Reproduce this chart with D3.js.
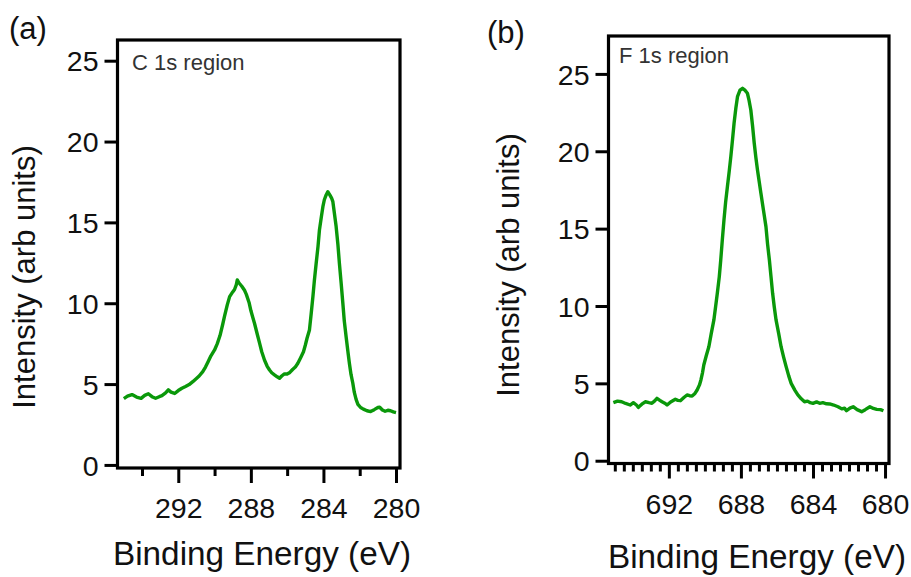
<!DOCTYPE html>
<html><head><meta charset="utf-8">
<script src="https://cdn.jsdelivr.net/npm/d3@7/dist/d3.min.js"></script>
<style>body{margin:0;background:#fff}svg{display:block}text{font-family:"Liberation Sans",Arial,sans-serif}</style>
</head><body><svg id="c" width="911" height="577"></svg>
<script>
// C 1s region (binding energy eV, intensity)
const c1sEnergy = [295.0,294.8,294.55,294.3,294.05,293.85,293.65,293.45,293.25,293.05,292.9,292.7,292.55,292.4,292.2,292.0,291.8,291.6,291.4,291.2,291.0,290.85,290.65,290.5,290.35,290.2,290.0,289.85,289.7,289.55,289.45,289.3,289.17,289.0,288.9,288.8,288.75,288.65,288.5,288.35,288.25,288.1,288.0,287.9,287.8,287.65,287.52,287.4,287.25,287.1,286.97,286.85,286.7,286.55,286.42,286.3,286.15,286.0,285.85,285.7,285.55,285.41,285.25,285.1,285.0,284.9,284.77,284.68,284.58,284.5,284.4,284.3,284.22,284.12,284.03,283.95,283.85,283.76,283.65,283.55,283.48,283.4,283.3,283.2,283.12,283.02,282.93,282.85,282.75,282.65,282.57,282.48,282.38,282.3,282.2,282.1,281.95,281.8,281.6,281.4,281.2,281.0,280.9,280.75,280.6,280.45,280.3,280.15,280.0];
const c1sIntensity = [4.10,4.25,4.35,4.20,4.12,4.30,4.40,4.22,4.12,4.22,4.28,4.45,4.64,4.50,4.42,4.60,4.74,4.85,4.97,5.15,5.35,5.50,5.77,6.05,6.40,6.75,7.11,7.50,8.00,8.70,9.20,9.90,10.41,10.70,10.85,11.15,11.44,11.25,11.05,10.80,10.55,10.05,9.55,9.15,8.76,8.10,7.53,7.00,6.49,6.10,5.87,5.70,5.57,5.45,5.36,5.50,5.63,5.62,5.72,5.90,6.05,6.29,6.65,7.00,7.40,7.85,8.35,9.30,10.41,11.40,12.47,13.50,14.53,15.30,15.97,16.40,16.70,16.90,16.70,16.50,16.28,15.60,14.74,13.60,12.47,11.20,10.00,8.90,7.93,7.00,6.29,5.60,5.05,4.50,4.05,3.75,3.55,3.45,3.35,3.30,3.42,3.55,3.57,3.40,3.32,3.38,3.35,3.28,3.24];
// F 1s region
const f1sEnergy = [695.08,694.85,694.62,694.4,694.15,693.97,693.8,693.69,693.5,693.31,693.1,692.94,692.8,692.66,692.5,692.38,692.2,692.1,691.9,691.64,691.5,691.36,691.15,690.99,690.85,690.71,690.55,690.43,690.3,690.22,690.13,690.06,689.92,689.78,689.65,689.5,689.4,689.31,689.2,689.12,689.03,688.94,688.85,688.75,688.65,688.56,688.47,688.38,688.28,688.19,688.05,687.91,687.78,687.64,687.55,687.45,687.35,687.26,687.17,687.08,686.98,686.89,686.75,686.61,686.52,686.42,686.33,686.24,686.15,686.05,685.9,685.77,685.63,685.49,685.35,685.21,685.0,684.84,684.65,684.47,684.3,684.15,684.0,683.8,683.63,683.45,683.25,683.07,682.85,682.61,682.4,682.25,682.14,681.95,681.77,681.55,681.3,681.1,680.84,680.65,680.46,680.25,680.09];
const f1sIntensity = [3.75,3.85,3.81,3.70,3.60,3.75,3.60,3.45,3.65,3.81,3.75,3.71,3.85,4.03,3.90,3.81,3.70,3.60,3.80,3.97,3.90,3.88,4.10,4.25,4.20,4.18,4.35,4.57,4.90,5.22,5.70,6.19,6.80,7.37,8.20,9.10,10.00,10.82,11.90,12.97,14.30,15.56,16.70,17.71,18.70,19.65,20.70,21.81,22.80,23.53,23.95,24.07,23.95,23.75,23.30,22.67,21.60,20.52,19.60,18.79,18.00,17.29,16.20,15.13,14.00,12.97,11.90,10.82,9.95,9.10,8.20,7.37,6.70,6.08,5.50,5.00,4.55,4.25,4.00,3.81,3.85,3.75,3.71,3.80,3.71,3.75,3.68,3.67,3.60,3.49,3.35,3.40,3.23,3.40,3.49,3.30,3.17,3.30,3.49,3.38,3.32,3.30,3.23];

const yTicks = [0,5,10,15,20,25];
const c1sMajor = [292,288,284,280];
const c1sMinor = [294,290,286,282];
const f1sMajor = [692,688,684,680];
const panelLetters = ["(a)","(b)"];
const regionLabels = ["C 1s region","F 1s region"];
const xTitle = "Binding Energy (eV)";
const yTitle = "Intensity (arb units)";

const f1sMinor = d3.range(695, 679.9, -0.5).filter(v => !f1sMajor.includes(v));

const svg = d3.select("#c");
const green = "#0a980a";

const panels = [
  {L:117.5,R:400,T:40,B:468, xd:[295.35,279.78], yd:[-0.19,26.28], E:c1sEnergy, I:c1sIntensity,
   major:c1sMajor, minor:c1sMinor, letter:panelLetters[0], lx:9, ly:39, label:regionLabels[0], rx:132, ry:70,
   xtx:262, xty:565, ytx:35, yty:277, labOff:30},
  {L:608.5,R:889,T:36,B:463.5, xd:[695.35,679.78], yd:[-0.18,27.45], E:f1sEnergy, I:f1sIntensity,
   major:f1sMajor, minor:f1sMinor, letter:panelLetters[1], lx:487, ly:43, label:regionLabels[1], rx:619, ry:63,
   xtx:757, xty:568, ytx:519, yty:265, labOff:30.5}
];

panels.forEach(p => {
  const x = d3.scaleLinear().domain(p.xd).range([p.L, p.R]);
  const y = d3.scaleLinear().domain(p.yd).range([p.B, p.T]);
  const g = svg.append("g");

  const ya = g.append("g").attr("transform", `translate(${p.L},0)`)
    .call(d3.axisLeft(y).tickValues(yTicks).tickSize(13).tickPadding(6).tickFormat(d3.format("d")));
  const xa = g.append("g").attr("transform", `translate(0,${p.B})`)
    .call(d3.axisBottom(x).tickValues(p.major).tickSize(15).tickPadding(p.labOff - 15).tickFormat(d3.format("d")));
  const xm = g.append("g").attr("transform", `translate(0,${p.B})`)
    .call(d3.axisBottom(x).tickValues(p.minor).tickSize(8).tickFormat(""));
  [ya, xa, xm].forEach(a => {
    a.select(".domain").remove();
    a.selectAll(".tick line").attr("stroke", "#000").attr("stroke-width", 3);
    a.selectAll(".tick text").attr("font-size", 28.5).attr("fill", "#111")
      .attr("font-family", '"Liberation Sans",Arial,sans-serif');
  });
  ya.selectAll(".tick text").attr("dy", "0.36em");

  const pts = p.E.map((e, i) => [e, p.I[i]]);
  g.append("path").datum(pts)
    .attr("fill", "none").attr("stroke", green).attr("stroke-width", 3.4)
    .attr("stroke-linejoin", "round")
    .attr("d", d3.line().x(d => x(d[0])).y(d => y(d[1])));

  g.append("rect").attr("x", p.L).attr("y", p.T).attr("width", p.R - p.L).attr("height", p.B - p.T)
    .attr("fill", "none").attr("stroke", "#000").attr("stroke-width", 3.2);

  g.append("text").attr("x", p.lx).attr("y", p.ly).attr("font-size", 31).attr("fill", "#111").text(p.letter);
  g.append("text").attr("x", p.rx).attr("y", p.ry).attr("font-size", 22).attr("fill", "#333").text(p.label);
  g.append("text").attr("x", p.xtx).attr("y", p.xty).attr("text-anchor", "middle").attr("font-size", 33.3).attr("fill", "#111").text(xTitle);
  g.append("text").attr("transform", `translate(${p.ytx},${p.yty}) rotate(-90)`).attr("text-anchor", "middle")
    .attr("font-size", 31).attr("fill", "#111").text(yTitle);
});
</script></body></html>
